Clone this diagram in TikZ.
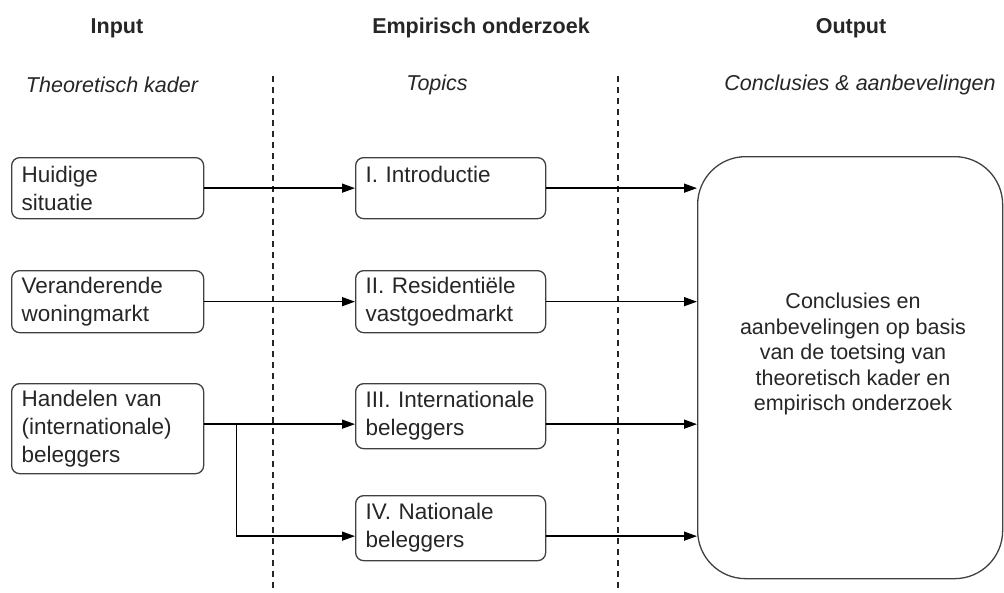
\documentclass[tikz,border=0pt]{standalone}
\usepackage{fontspec}
\setmainfont{Liberation Sans}
\usetikzlibrary{arrows.meta,calc}
\begin{document}
\begin{tikzpicture}[x=1pt,y=-1pt,
  fnt/.style={font=\fontsize{22.5}{28}\selectfont, text=black!85},
  ttl/.style={font=\fontsize{21.5}{27}\selectfont\bfseries, text=black!85},
  sub/.style={font=\fontsize{21.5}{27}\selectfont\itshape, text=black!85},
  box/.style={fnt, draw=black!75, line width=1.3pt, rounded corners=8pt, anchor=north west,
    align=left, inner xsep=10pt, inner ysep=0pt},
  lbox/.style={box, text width=172pt},
  mbox/.style={box, text width=170pt},
  bigbox/.style={draw=black!75, line width=1.3pt, rounded corners=48pt, anchor=north west,
    minimum width=305pt, minimum height=422pt, inner sep=0pt},
  ln/.style={line width=1.4pt, black},
  arr/.style={ln, -{Triangle[length=13pt,width=9pt]}},
  sep/.style={line width=1.2pt, black!85, dash pattern=on 6pt off 5pt}]
\useasboundingbox (0,0) rectangle (1004,592);

% titles
\node[ttl] (tin) at (117,28) {Input};
\node[ttl] (temp) at (481,28) {Empirisch onderzoek};
\node[ttl] (tout) at (851,28) {Output};
\node[sub] (sin) at (112,85) {Theoretisch kader};
\node[sub] (semp) at (437,85) {Topics};
\node[sub] (sout) at (860,85) {Conclusies \& aanbevelingen};

% separators
\coordinate (d1t) at (273,76); \coordinate (d1b) at (273,590);
\coordinate (d2t) at (618,76); \coordinate (d2b) at (618,590);
\draw[sep] (d1t) -- (d1b);
\draw[sep] (d2t) -- (d2b);

% input boxes
\node[lbox, minimum height=61pt] (b1) at (11,157) {Huidige\\situatie};
\node[lbox, minimum height=62pt] (b2) at (11,270) {Veranderende\\woningmarkt};
\node[lbox, minimum height=90pt] (b3) at (11,383) {Handelen van\\(internationale)\\beleggers};

% topic boxes
\node[mbox, minimum height=61pt] (m1) at (355,157) {I. Introductie\\\mbox{}};
\node[mbox, minimum height=62pt] (m2) at (355,270) {II. Residenti\"ele\\vastgoedmarkt};
\node[mbox, minimum height=65pt] (m3) at (355,383) {III. Internationale\\beleggers};
\node[mbox, minimum height=65pt] (m4) at (355,495) {IV. Nationale\\beleggers};

% output box
\node[bigbox] (big) at (697,156) {};
\node[fnt, align=center, font=\fontsize{21.5}{25.5}\selectfont] (bigtxt) at (853,354)
  {Conclusies en\\aanbevelingen op basis\\van de toetsing van\\theoretisch kader en\\empirisch onderzoek};

% connectors
\coordinate (j3) at ([yshift=-8pt]m3.west);
\coordinate (j4) at ([yshift=-8pt]m4.west);
\coordinate (br) at ([xshift=32pt]b3.east |- j3);
\draw[arr] (b1.east) -- (m1.west);
\draw[arr] (b2.east) -- (m2.west);
\draw[arr] (b3.east |- j3) -- (j3);
\draw[arr] (br) |- (j4);

\draw[arr] (m1.east) -- (m1.east -| big.west);
\draw[arr] (m2.east) -- (m2.east -| big.west);
\draw[arr] (j3 -| m3.east) -- (j3 -| big.west);
\draw[arr] (j4 -| m4.east) -- (j4 -| big.west);
\end{tikzpicture}
\end{document}
